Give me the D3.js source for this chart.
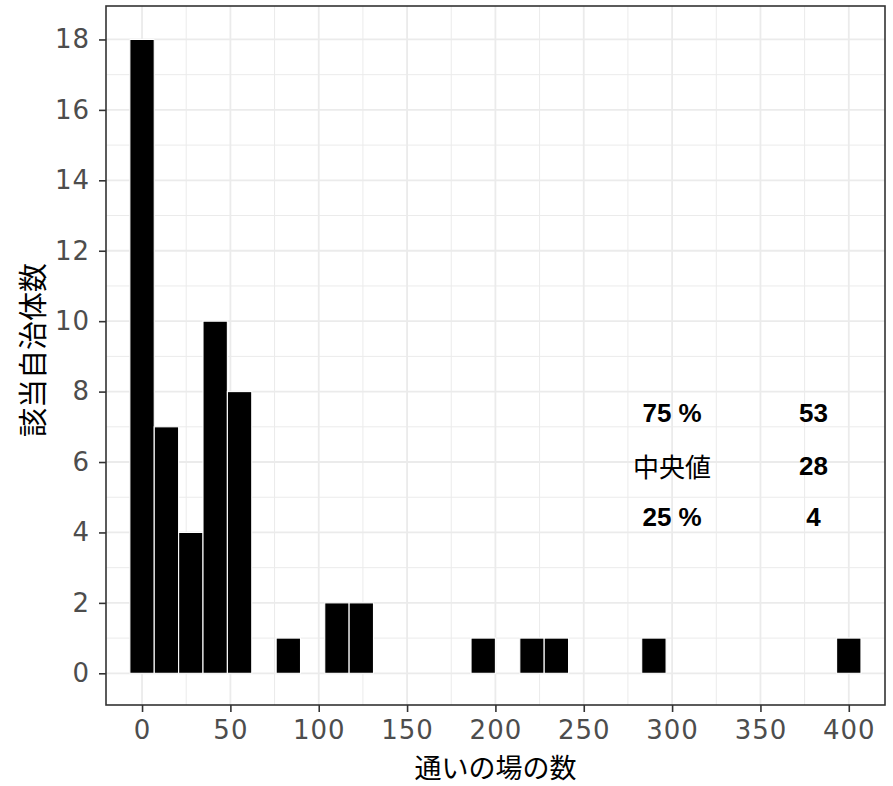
<!DOCTYPE html>
<html><head><meta charset="utf-8">
<script src="https://cdn.jsdelivr.net/npm/d3@7"></script>
<style>body{margin:0;background:#fff;}svg{display:block;}</style>
</head><body>
<svg id="chart" width="893" height="786"></svg>
<script>
// Histogram bins (centres, counts)
const binCenters = [0, 13.8, 27.6, 41.4, 55.2, 82.8, 110.3, 124.1, 193.1, 220.7, 234.5, 289.7, 400];
const binCounts  = [18, 7, 4, 10, 8, 1, 2, 2, 1, 1, 1, 1, 1];
const binWidth = 13.79;
const xTicks = [0, 50, 100, 150, 200, 250, 300, 350, 400];
const xMinor = [25, 75, 125, 175, 225, 275, 325, 375];
const yTicks = [0, 2, 4, 6, 8, 10, 12, 14, 16, 18];
const yMinor = [1, 3, 5, 7, 9, 11, 13, 15, 17];
const statLabels = ["75 %", "中央値", "25 %"];
const statValues = [53, 28, 4];
const statY = [7.4, 5.9, 4.45];
const xTitle = "通いの場の数";
const yTitle = "該当自治体数";

const svg = d3.select("#chart");
const L = 106, R = 885, T = 6, B = 705;
const x = d3.scaleLinear().domain([-20.4, 420.5]).range([L, R]);
const y = d3.scaleLinear().domain([-0.9, 18.95]).range([B, T]);

const g = svg.append("g");
// minor grid
g.selectAll(".xmin").data(xMinor).join("line")
  .attr("x1", d => x(d)).attr("x2", d => x(d)).attr("y1", T).attr("y2", B)
  .attr("stroke", "#EBEBEB").attr("stroke-width", 1);
g.selectAll(".ymin").data(yMinor).join("line")
  .attr("y1", d => y(d)).attr("y2", d => y(d)).attr("x1", L).attr("x2", R)
  .attr("stroke", "#EBEBEB").attr("stroke-width", 1);
// major grid
g.selectAll(".xmaj").data(xTicks).join("line")
  .attr("x1", d => x(d)).attr("x2", d => x(d)).attr("y1", T).attr("y2", B)
  .attr("stroke", "#EBEBEB").attr("stroke-width", 1.8);
g.selectAll(".ymaj").data(yTicks).join("line")
  .attr("y1", d => y(d)).attr("y2", d => y(d)).attr("x1", L).attr("x2", R)
  .attr("stroke", "#EBEBEB").attr("stroke-width", 1.8);

// bars
const bars = binCenters.map((c, i) => ({c, n: binCounts[i]}));
g.selectAll(".bar").data(bars).join("rect")
  .attr("x", d => x(d.c - binWidth / 2))
  .attr("width", d => x(d.c + binWidth / 2) - x(d.c - binWidth / 2))
  .attr("y", d => y(d.n))
  .attr("height", d => y(0) - y(d.n))
  .attr("fill", "#000").attr("stroke", "#fff").attr("stroke-width", 1.1);

// stats annotation
const ann = svg.append("g");
statLabels.forEach((s, i) => {
  const isCJK = /[^\x00-\x7F]/.test(s);
  ann.append("text").attr("x", x(300)).attr("y", y(statY[i]))
    .attr("text-anchor", "middle").attr("dominant-baseline", "central")
    .attr("font-family", isCJK ? "'Noto Sans CJK JP'" : "'Liberation Sans', Arial, sans-serif")
    .attr("font-weight", isCJK ? "normal" : "bold")
    .attr("font-size", 26).attr("fill", "#000").text(s);
  ann.append("text").attr("x", x(380)).attr("y", y(statY[i]))
    .attr("text-anchor", "middle").attr("dominant-baseline", "central")
    .attr("font-family", "'Liberation Sans', Arial, sans-serif")
    .attr("font-weight", "bold").attr("font-size", 26).attr("fill", "#000").text(statValues[i]);
});

// panel border
svg.append("rect").attr("x", L).attr("y", T).attr("width", R - L).attr("height", B - T)
  .attr("fill", "none").attr("stroke", "#333333").attr("stroke-width", 1.6);

// axes
const xAxis = svg.append("g").attr("transform", `translate(0,${B})`)
  .call(d3.axisBottom(x).tickValues(xTicks).tickSize(7).tickPadding(9).tickFormat(d3.format("d")));
const yAxis = svg.append("g").attr("transform", `translate(${L},0)`)
  .call(d3.axisLeft(y).tickValues(yTicks).tickSize(7).tickPadding(9).tickFormat(d3.format("d")));
[xAxis, yAxis].forEach(a => {
  a.select(".domain").remove();
  a.selectAll(".tick line").attr("stroke", "#333333").attr("stroke-width", 1.6);
  a.selectAll(".tick text").attr("fill", "#4D4D4D")
    .attr("font-family", "'DejaVu Sans', Verdana, sans-serif").attr("font-size", 26)
    .attr("letter-spacing", 1);
});

// titles
svg.append("text").attr("x", (L + R) / 2).attr("y", 778).attr("text-anchor", "middle")
  .attr("font-family", "'Noto Sans CJK JP'").attr("font-size", 27).attr("fill", "#000").text(xTitle);
svg.append("text").attr("transform", `translate(44,350) rotate(-90)`).attr("text-anchor", "middle")
  .attr("font-family", "'Noto Sans CJK JP'").attr("font-size", 29).attr("fill", "#000").text(yTitle);
</script>
</body></html>
